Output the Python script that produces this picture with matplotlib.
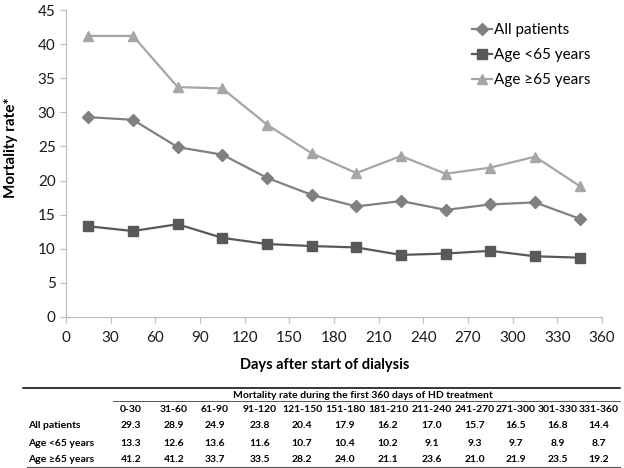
import numpy as np
import matplotlib
matplotlib.use("Agg")
import matplotlib.pyplot as plt
from matplotlib.lines import Line2D

plt.rcParams['font.family'] = ['Lato', 'DejaVu Sans']

# data
intervals = ["0-30", "31-60", "61-90", "91-120", "121-150", "151-180",
             "181-210", "211-240", "241-270", "271-300", "301-330", "331-360"]
days_mid = [15, 45, 75, 105, 135, 165, 195, 225, 255, 285, 315, 345]
all_patients = [29.3, 28.9, 24.9, 23.8, 20.4, 17.9, 16.2, 17.0, 15.7, 16.5, 16.8, 14.4]
age_under65 = [13.3, 12.6, 13.6, 11.6, 10.7, 10.4, 10.2, 9.1, 9.3, 9.7, 8.9, 8.7]
age_over65 = [41.2, 41.2, 33.7, 33.5, 28.2, 24.0, 21.1, 23.6, 21.0, 21.9, 23.5, 19.2]
row_labels = ["All patients", "Age <65 years", "Age \u226565 years"]

W, H = 624.0, 468.0
def fx(px):
    return px / W
def fy(py):
    return 1 - py / H

ax_l, ax_r, ax_t, ax_b = 66, 602, 10, 317
aw, ah = ax_r - ax_l, ax_b - ax_t

fig = plt.figure(figsize=(6.24, 4.68), dpi=100)
ax = fig.add_axes([fx(ax_l), fy(ax_b), aw / W, ah / H])

ax.plot(days_mid, all_patients, color="#808080", marker="D", markersize=6,
        linewidth=1.6, label=row_labels[0])
ax.plot(days_mid, age_under65, color="#595959", marker="s", markersize=6.5,
        linewidth=1.6, label=row_labels[1])
ax.plot(days_mid, age_over65, color="#A6A6A6", marker="^", markersize=7.5,
        linewidth=1.6, label=row_labels[2])

ax.set_xlim(0, 360)
ax.set_ylim(0, 45)
ax.set_xticks(np.arange(0, 361, 30))
ax.set_yticks(np.arange(0, 46, 5))
for s in ["top", "right"]:
    ax.spines[s].set_visible(False)
for s in ["left", "bottom"]:
    ax.spines[s].set_color("#BFBFBF")
    ax.spines[s].set_linewidth(0.9)
ax.tick_params(colors="#BFBFBF", labelcolor="#1a1a1a", labelsize=11, length=4, width=0.9)
ax.tick_params(axis="x", pad=6)

ax.set_xlabel("Days after start of dialysis", fontsize=10.5, fontweight="bold")
ax.xaxis.set_label_coords((325 - ax_l) / aw, -(365 - ax_b) / ah)
ax.xaxis.label.set_va("center")
ax.set_ylabel("Mortality rate*", fontsize=11, fontweight="bold")
ax.yaxis.set_label_coords((11 - ax_l) / aw, (ax_b - 148) / ah)
ax.yaxis.label.set_va("center")

fig.legend(loc="upper left", bbox_to_anchor=(fx(472), fy(23)), frameon=False,
           fontsize=11, handlelength=1.3, handletextpad=0.15, labelspacing=0.72,
           borderpad=0, borderaxespad=0)

# table under the chart
col_x = [131, 174, 215, 260, 302, 345, 388, 432, 475, 516, 558, 599]
ts = 7.5
fig.add_artist(Line2D([fx(23), fx(620)], [fy(388), fy(388)], color="black", lw=1.1))
fig.text(fx(363), fy(395), "Mortality rate during the first 360 days of HD treatment",
         ha="center", va="center", fontsize=ts, fontweight="bold")
fig.add_artist(Line2D([fx(113), fx(620)], [fy(401), fy(401)], color="#555555", lw=0.7))
for x, lab in zip(col_x, intervals):
    fig.text(fx(x), fy(410), lab, ha="center", va="center", fontsize=ts, fontweight="bold")
rows = [all_patients, age_under65, age_over65]
row_y = [425, 443, 459]
for y, lab, vals in zip(row_y, row_labels, rows):
    fig.text(fx(28), fy(y), lab, ha="left", va="center", fontsize=ts, fontweight="bold")
    for x, v in zip(col_x, vals):
        fig.text(fx(x), fy(y), f"{v:.1f}", ha="center", va="center", fontsize=ts,
                 fontweight="bold")
fig.add_artist(Line2D([fx(27), fx(620)], [fy(467), fy(467)], color="#555555", lw=0.8))

fig.savefig("out.png", dpi=100)
